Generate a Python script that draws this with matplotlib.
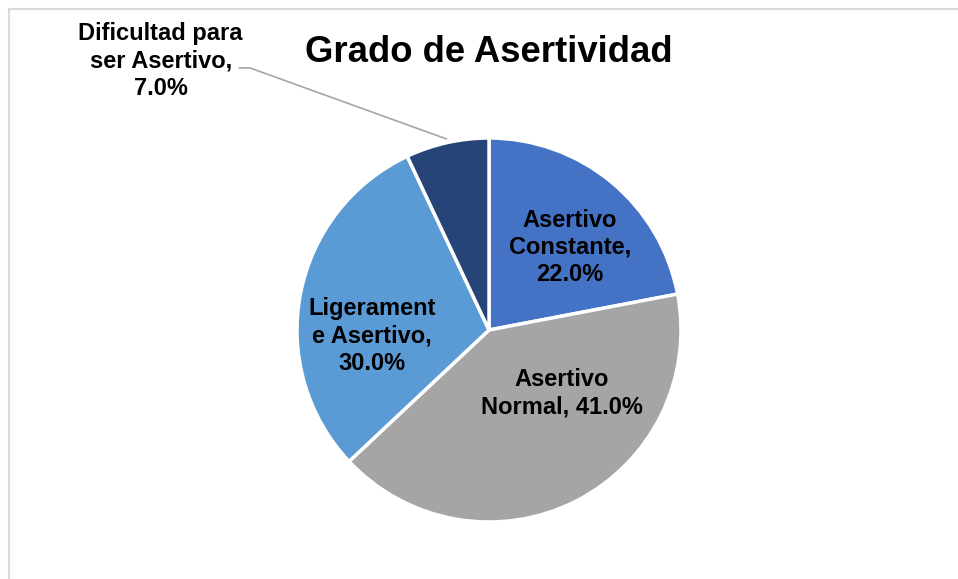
import matplotlib.pyplot as plt
import numpy as np
from matplotlib.lines import Line2D

# Datos del gráfico
categorias = ['Asertivo Constante', 'Asertivo Normal', 'Ligeramente Asertivo', 'Dificultad para ser Asertivo']
porcentajes = [22.0, 41.0, 30.0, 7.0]
colores = ['#4472C4', '#A5A5A5', '#5B9BD5', '#264478']

plt.rcParams['font.family'] = ['Liberation Sans', 'DejaVu Sans']

fig = plt.figure(figsize=(9.58, 5.79), dpi=100)
W, H = 958, 579

# marco gris del área del gráfico
fig.add_artist(Line2D([9 / W, 9 / W], [0, 1 - 9 / H], color='#D9D9D9', lw=1.5))
fig.add_artist(Line2D([9 / W, 1], [1 - 9 / H, 1 - 9 / H], color='#D9D9D9', lw=1.5))

# ejes del pastel: centro (489, 330), radio 192 px
cx, cy, r = 489, 330, 192
ax = fig.add_axes([(cx - r) / W, (H - cy - r) / H, 2 * r / W, 2 * r / H])
wedges, _ = ax.pie(porcentajes, colors=colores, startangle=90, counterclock=False,
                   radius=1, wedgeprops=dict(edgecolor='white', linewidth=2.5))
ax.set_xlim(-1, 1)
ax.set_ylim(-1, 1)
ax.set_aspect('equal')
ax.axis('off')

# etiquetas de datos (texto cortado como en el original)
etiquetas = [
    'Asertivo\nConstante,\n%.1f%%' % porcentajes[0],
    'Asertivo\nNormal, %.1f%%' % porcentajes[1],
    'Ligerament\ne Asertivo,\n%.1f%%' % porcentajes[2],
    'Dificultad para\nser Asertivo,\n%.1f%%' % porcentajes[3],
]
pos_etiquetas = [(0.42, 0.43), (0.38, -0.33), (-0.61, -0.03), (-1.71, 1.40)]
for txt, (x, y) in zip(etiquetas, pos_etiquetas):
    ax.text(x, y, txt, ha='center', va='center', fontsize=17, fontweight='bold',
            color='black', linespacing=1.24, clip_on=False)

# línea guía para la etiqueta exterior
w = wedges[3]
ang = np.deg2rad((w.theta1 + w.theta2) / 2)
ex, ey = 1.02 * np.cos(ang), 1.02 * np.sin(ang)
ax.plot([-1.30, -1.245, ex], [1.365, 1.365, ey], color='#A5A5A5', lw=1.2, clip_on=False)

fig.text(cx / W, 1 - 52 / H, 'Grado de Asertividad', ha='center', va='center',
         fontsize=26.3, fontweight='bold')

plt.savefig('out.png', dpi=100)
